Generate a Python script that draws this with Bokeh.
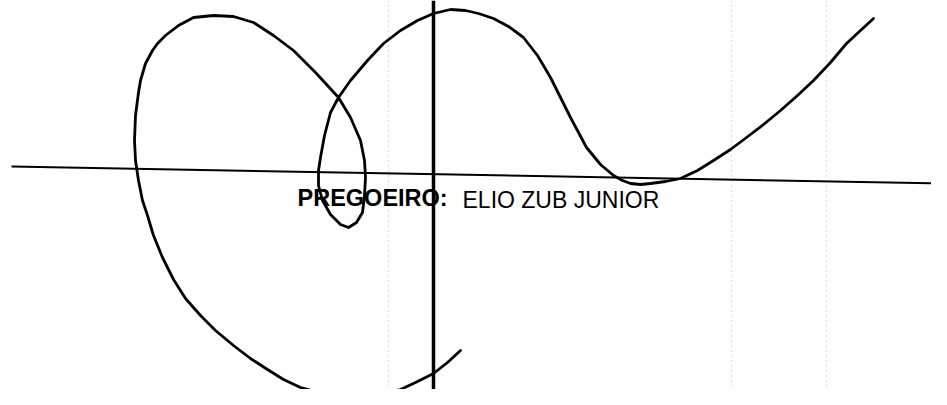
from bokeh.plotting import figure
from bokeh.models import Range1d
from bokeh.core.properties import value
from bokeh.embed import file_html
from bokeh.resources import INLINE

# Signature stroke, traced in image coordinates (x right, y down)
sig_x = [460, 447, 433, 415, 400, 383, 367, 350, 333, 315, 300, 283, 267, 250, 233, 215, 200, 185,
         173, 162, 153, 147, 142, 138, 135, 134, 135, 138, 140, 145, 152, 157, 165, 178, 193, 213,
         233, 253, 273, 293, 315, 338, 350, 360, 364, 365, 364, 362, 356, 348, 340, 330, 322, 318,
         318, 320, 324, 330, 338, 350, 367, 383, 400, 417, 433, 450, 465, 478, 493, 508, 523, 537,
         550, 560, 570, 578, 586, 600, 613, 622, 630, 640, 650, 665, 680, 697, 713, 730, 746, 763,
         780, 797, 813, 830, 846, 860, 873]
sig_y = [350, 362, 373, 382, 389, 393, 395, 396, 395, 391, 387, 379, 369, 358, 345, 330, 315, 298,
         279, 257, 235, 215, 200, 180, 160, 140, 115, 92, 80, 63, 50, 43, 35, 25, 17, 15,
         16, 22, 35, 50, 72, 97, 117, 140, 160, 177, 195, 212, 222, 227, 224, 214, 200, 185,
         170, 157, 135, 112, 97, 80, 60, 43, 30, 20, 13, 9, 10, 13, 18, 26, 37, 55,
         77, 97, 117, 132, 147, 164, 175, 180, 183, 184, 183, 181, 178, 170, 160, 149, 137, 124,
         110, 95, 80, 62, 43, 30, 18]

# Signature baseline (slightly tilted) and vertical rule
rule_x = [11, 947]
rule_y = [166, 183]
vrule_x = [433, 433]
vrule_y = [0, 405]

# Faint dotted scan lines
faint_x = [388, 731, 826]

# Caption
label_bold = "PREGOEIRO:"
label_name = "ELIO ZUB JUNIOR"

p = figure(width=931, height=389, output_backend="svg", toolbar_location=None,
           x_range=Range1d(0, 931), y_range=Range1d(389, 0), min_border=0)
p.axis.visible = False
p.grid.visible = False
p.outline_line_color = None
p.background_fill_color = "white"
p.border_fill_color = "white"

for fx in faint_x:
    p.line([fx, fx], [0, 405], line_color="#9a9a9a", line_width=1, line_dash="1 4", line_alpha=0.7)

p.line(rule_x, rule_y, line_color="black", line_width=2)
p.line(vrule_x, vrule_y, line_color="black", line_width=3.5)
p.line(sig_x, sig_y, line_color="black", line_width=2.8, line_join="round", line_cap="round")

p.text(x=[297], y=[197], text=[label_bold], text_font=value("Liberation Sans"),
       text_font_size="23.5px", text_font_style="bold", text_color="black",
       text_baseline="alphabetic", text_align="left")
p.text(x=[462], y=[199], text=[label_name], text_font=value("Liberation Sans"),
       text_font_size="23px", text_color="black",
       text_baseline="alphabetic", text_align="left")

open("out.html", "w").write(file_html(p, INLINE))
